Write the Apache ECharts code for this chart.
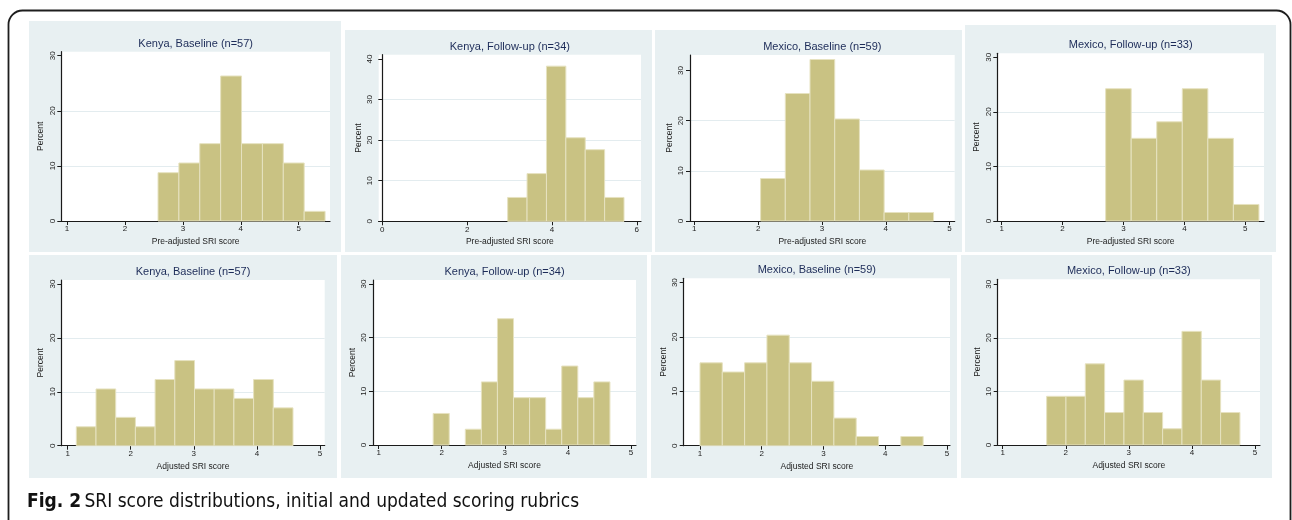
<!DOCTYPE html>
<html>
<head>
<meta charset="utf-8">
<script src="https://cdn.jsdelivr.net/npm/echarts@6/dist/echarts.min.js"></script>
<style>
  html, body { margin: 0; padding: 0; background: #ffffff; }
  #chart { width: 1292px; height: 520px; }
</style>
</head>
<body>
<div id="chart"></div>
<script>
// ---------------- DATA ----------------
const panelTitles = [
  'Kenya, Baseline (n=57)', 'Kenya, Follow-up (n=34)', 'Mexico, Baseline (n=59)', 'Mexico, Follow-up (n=33)',
  'Kenya, Baseline (n=57)', 'Kenya, Follow-up (n=34)', 'Mexico, Baseline (n=59)', 'Mexico, Follow-up (n=33)'
];
const xAxisTitles = [
  'Pre-adjusted SRI score', 'Pre-adjusted SRI score', 'Pre-adjusted SRI score', 'Pre-adjusted SRI score',
  'Adjusted SRI score', 'Adjusted SRI score', 'Adjusted SRI score', 'Adjusted SRI score'
];
const yAxisTitle = 'Percent';
const caption = 'SRI score distributions, initial and updated scoring rubrics';
const captionLabel = 'Fig. 2';

// x tick labels
const xTicks15 = [1, 2, 3, 4, 5];
const xTicks06 = [0, 2, 4, 6];
// y tick labels
const yTicks30 = [0, 10, 20, 30];
const yTicks40 = [0, 10, 20, 30, 40];

// histogram bins: first bin start, bin width, percent per bin
const kenyaBasePreStart = 2.571, kenyaBasePreWidth = 0.3605;
const kenyaBasePrePct = [8.77, 10.53, 14.04, 26.32, 14.04, 14.04, 10.53, 1.75];

const kenyaFollowPreStart = 2.956, kenyaFollowPreWidth = 0.4573;
const kenyaFollowPrePct = [5.88, 11.76, 38.24, 20.59, 17.65, 5.88];

const mexicoBasePreStart = 2.039, mexicoBasePreWidth = 0.3871;
const mexicoBasePrePct = [8.47, 25.42, 32.20, 20.34, 10.17, 1.69, 1.69];

const mexicoFollowPreStart = 2.707, mexicoFollowPreWidth = 0.4195;
const mexicoFollowPrePct = [24.24, 15.15, 18.18, 24.24, 15.15, 3.03];

const kenyaBaseAdjStart = 1.137, kenyaBaseAdjWidth = 0.3123;
const kenyaBaseAdjPct = [3.51, 10.53, 5.26, 3.51, 12.28, 15.79, 10.53, 10.53, 8.77, 12.28, 7.02];

const kenyaFollowAdjStart = 1.864, kenyaFollowAdjWidth = 0.2548;
const kenyaFollowAdjPct = [5.88, 0, 2.94, 11.76, 23.53, 8.82, 8.82, 2.94, 14.71, 8.82, 11.76];

const mexicoBaseAdjStart = 1.0, mexicoBaseAdjWidth = 0.3615;
const mexicoBaseAdjPct = [15.25, 13.56, 15.25, 20.34, 15.25, 11.86, 5.08, 1.69, 0, 1.69];

const mexicoFollowAdjStart = 1.697, mexicoFollowAdjWidth = 0.3065;
const mexicoFollowAdjPct = [9.09, 9.09, 15.15, 6.06, 12.12, 6.06, 3.03, 21.21, 12.12, 6.06];

// ---------------- LAYOUT / STYLE ----------------
const FONT = "'Liberation Sans', Arial, sans-serif";
const CAPTION_FONT = "'Liberation Sans Narrow', 'DejaVu Sans Condensed', sans-serif";
const BAR = '#c9c283';
const BAR_EDGE = '#e6e2c0';
const PANEL_BG = '#e8f0f2';
const TITLE_COLOR = '#1c2b58';
const AXIS_COLOR = '#1a1a1a';

const hists = [
  [kenyaBasePreStart, kenyaBasePreWidth, kenyaBasePrePct],
  [kenyaFollowPreStart, kenyaFollowPreWidth, kenyaFollowPrePct],
  [mexicoBasePreStart, mexicoBasePreWidth, mexicoBasePrePct],
  [mexicoFollowPreStart, mexicoFollowPreWidth, mexicoFollowPrePct],
  [kenyaBaseAdjStart, kenyaBaseAdjWidth, kenyaBaseAdjPct],
  [kenyaFollowAdjStart, kenyaFollowAdjWidth, kenyaFollowAdjPct],
  [mexicoBaseAdjStart, mexicoBaseAdjWidth, mexicoBaseAdjPct],
  [mexicoFollowAdjStart, mexicoFollowAdjWidth, mexicoFollowAdjPct]
];

// panel background rects [x, y, w, h]
const panelBoxes = [
  [29, 21, 312, 231], [345, 30, 307, 222], [655, 30, 307, 222], [965, 25, 311, 227],
  [29, 255, 308, 223], [341, 255, 306, 223], [651, 255, 306, 223], [961, 255, 311, 223]
];
// plot areas [left, top, width, height]
const gridBoxes = [
  [61.3, 51.7, 268.7, 169.3], [378.7, 54.7, 262.3, 166.6], [690, 55, 264.7, 166], [997.3, 53.3, 266.7, 167.7],
  [61.3, 280, 263.4, 165.7], [373, 280, 263, 165], [683.7, 278.3, 266.3, 167.4], [997.7, 279.3, 262.3, 165.7]
];
// axis extents [xmin, xmax, ymax]
const extents = [
  [0.9016, 5.54, 30.73], [-0.085, 6.10, 41.06], [0.933, 5.08, 33.1], [0.928, 5.307, 30.73],
  [0.899, 5.075, 30.74], [0.91, 5.08, 30.74], [0.736, 5.05, 30.8], [0.921, 5.08, 30.93]
];
const xTickSets = [xTicks15, xTicks06, xTicks15, xTicks15, xTicks15, xTicks15, xTicks15, xTicks15];
const yTickSets = [yTicks30, yTicks40, yTicks30, yTicks30, yTicks30, yTicks30, yTicks30, yTicks30];

const chart = echarts.init(document.getElementById('chart'), null, { renderer: 'canvas' });

const grids = [], xAxes = [], yAxes = [], series = [], graphics = [];

// outer rounded frame
graphics.push({
  type: 'rect', z: -20, silent: true,
  shape: { x: 8.5, y: 10.5, width: 1282, height: 530, r: 14 },
  style: { fill: '#ffffff', stroke: '#1e1e1e', lineWidth: 1.8 }
});

function renderBar(params, api) {
  const x0 = api.value(0), x1 = api.value(1), v = api.value(2);
  if (!(v > 0)) return null;
  const p0 = api.coord([x0, 0]);
  const p1 = api.coord([x1, v]);
  return {
    type: 'rect',
    shape: { x: p0[0], y: p1[1], width: p1[0] - p0[0], height: p0[1] - p1[1] },
    style: { fill: BAR, stroke: BAR_EDGE, lineWidth: 1 }
  };
}

for (let i = 0; i < 8; i++) {
  const pb = panelBoxes[i], gb = gridBoxes[i], ex = extents[i];
  graphics.push({
    type: 'rect', z: -10, silent: true,
    shape: { x: pb[0], y: pb[1], width: pb[2], height: pb[3] },
    style: { fill: PANEL_BG }
  });
  graphics.push({
    type: 'text', z: 10, silent: true,
    x: gb[0] + gb[2] / 2, y: gb[1] - 8,
    style: { text: panelTitles[i], fill: TITLE_COLOR, font: '11px ' + FONT, align: 'center', verticalAlign: 'middle' }
  });
  grids.push({
    left: gb[0], top: gb[1], width: gb[2], height: gb[3],
    show: true, backgroundColor: '#ffffff', borderWidth: 0, containLabel: false
  });
  xAxes.push({
    type: 'value', gridIndex: i, min: ex[0], max: ex[1],
    name: xAxisTitles[i], nameLocation: 'middle', nameGap: 16,
    nameTextStyle: { fontFamily: FONT, fontSize: 8.5, color: '#222' },
    axisLine: { show: true, onZero: false, lineStyle: { color: AXIS_COLOR, width: 1.2 } },
    axisTick: { show: true, length: 4, customValues: xTickSets[i], lineStyle: { color: AXIS_COLOR, width: 1 } },
    axisLabel: { customValues: xTickSets[i], fontFamily: FONT, fontSize: 8, color: '#222', margin: 4 },
    splitLine: { show: false }
  });
  yAxes.push({
    type: 'value', gridIndex: i, min: 0, max: ex[2], interval: 10,
    name: yAxisTitle, nameLocation: 'middle', nameGap: 16, nameRotate: 90,
    nameTextStyle: { fontFamily: FONT, fontSize: 8.5, color: '#222' },
    axisLine: { show: true, lineStyle: { color: AXIS_COLOR, width: 1.2 } },
    axisTick: { show: true, length: 4, customValues: yTickSets[i], lineStyle: { color: AXIS_COLOR, width: 1 } },
    axisLabel: { customValues: yTickSets[i], rotate: 90, fontFamily: FONT, fontSize: 8, color: '#222', margin: 5 },
    splitLine: { show: true, showMinLine: false, showMaxLine: false, lineStyle: { color: '#e3ecef', width: 1 } }
  });
  const h = hists[i];
  const data = h[2].map((v, k) => [h[0] + k * h[1], h[0] + (k + 1) * h[1], v]);
  series.push({
    type: 'custom', xAxisIndex: i, yAxisIndex: i,
    renderItem: renderBar, data: data,
    encode: { x: [0, 1], y: 2 }, silent: true, animation: false, clip: false
  });
}

graphics.push({
  type: 'text', z: 10, silent: true, x: 27, y: 502,
  style: {
    text: '{b|' + captionLabel + '} {r|' + caption + '}',
    verticalAlign: 'middle',
    rich: {
      b: { fontFamily: CAPTION_FONT, fontWeight: 'bold', fontSize: 19, fill: '#111' },
      r: { fontFamily: CAPTION_FONT, fontSize: 19, fill: '#111' }
    }
  }
});

chart.setOption({
  animation: false,
  backgroundColor: '#ffffff',
  grid: grids,
  xAxis: xAxes,
  yAxis: yAxes,
  series: series,
  graphic: graphics
});
</script>
</body>
</html>
